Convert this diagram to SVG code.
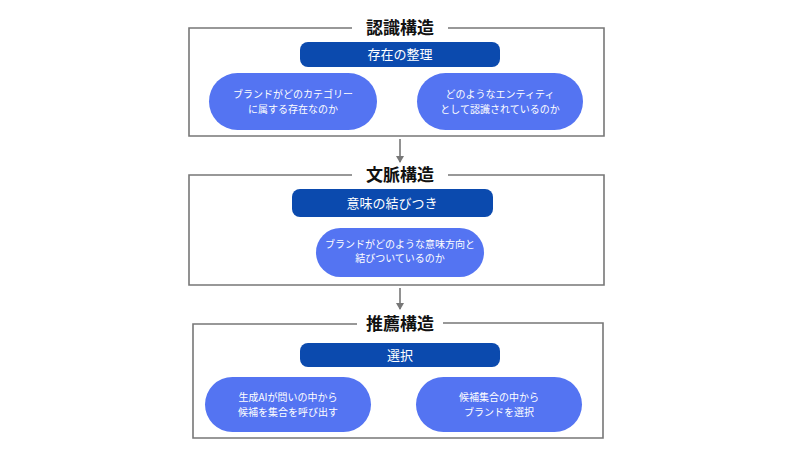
<svg xmlns="http://www.w3.org/2000/svg" width="800" height="450" viewBox="0 0 800 450">
<defs>
<style>
.frame{fill:none;stroke:#777;stroke-width:1.6}
.title{font-family:"Noto Sans CJK JP",sans-serif;font-size:17px;font-weight:bold;fill:#111;text-anchor:middle}
.dark{fill:#0B4AAE}
.light{fill:#5474F2}
.dt{font-family:"Noto Sans CJK JP",sans-serif;font-size:13px;fill:#fff;text-anchor:middle}
.lt{font-family:"Noto Sans CJK JP",sans-serif;font-size:10px;fill:#fff;text-anchor:middle}
.conn{stroke:#777;stroke-width:1.6;fill:none}
</style>
<marker id="ah" markerWidth="8" markerHeight="8" refX="6" refY="4" orient="auto" markerUnits="userSpaceOnUse"><path d="M0,0 L7,4 L0,8 Z" fill="#777"/></marker>
</defs>
<rect width="800" height="450" fill="#fff"/>
<g id="frame1">
<path class="frame" d="M352,28 H189 V136 H604 V28 H448"/>
<text class="title" x="400" y="34">認識構造</text>
<rect class="dark" x="300" y="42" width="200" height="25" rx="8"/>
<text class="dt" x="400" y="59">存在の整理</text>
<rect class="light" x="209" y="73" width="168" height="57" rx="28.5"/>
<text class="lt" x="293" y="98">ブランドがどのカテゴリー</text>
<text class="lt" x="293" y="113">に属する存在なのか</text>
<rect class="light" x="417" y="73" width="166" height="57" rx="28.5"/>
<text class="lt" x="500" y="98">どのようなエンティティ</text>
<text class="lt" x="500" y="113">として認識されているのか</text>
</g>
<g id="frame2">
<path class="frame" d="M352,175 H189 V285 H604 V175 H448"/>
<text class="title" x="400" y="181">文脈構造</text>
<rect class="dark" x="292" y="189" width="201" height="28" rx="8"/>
<text class="dt" x="392" y="208">意味の結びつき</text>
<rect class="light" x="316" y="228" width="168" height="49" rx="24.5"/>
<text class="lt" x="400" y="248">ブランドがどのような意味方向と</text>
<text class="lt" x="400" y="262">結びついているのか</text>
</g>
<g id="frame3">
<path class="frame" d="M357,324 H193 V438 H603 V323 H443"/>
<text class="title" x="400" y="330">推薦構造</text>
<rect class="dark" x="300" y="343" width="200" height="24" rx="8"/>
<text class="dt" x="400" y="360">選択</text>
<rect class="light" x="205" y="377" width="166" height="55" rx="27.5"/>
<text class="lt" x="288" y="401">生成AIが問いの中から</text>
<text class="lt" x="288" y="416">候補を集合を呼び出す</text>
<rect class="light" x="416" y="377" width="166" height="55" rx="27.5"/>
<text class="lt" x="499" y="401">候補集合の中から</text>
<text class="lt" x="499" y="416">ブランドを選択</text>
</g>
<g id="connectors">
<line class="conn" x1="400" y1="139" x2="400" y2="162" marker-end="url(#ah)"/>
<line class="conn" x1="400" y1="288" x2="400" y2="309" marker-end="url(#ah)"/>
</g>
</svg>
